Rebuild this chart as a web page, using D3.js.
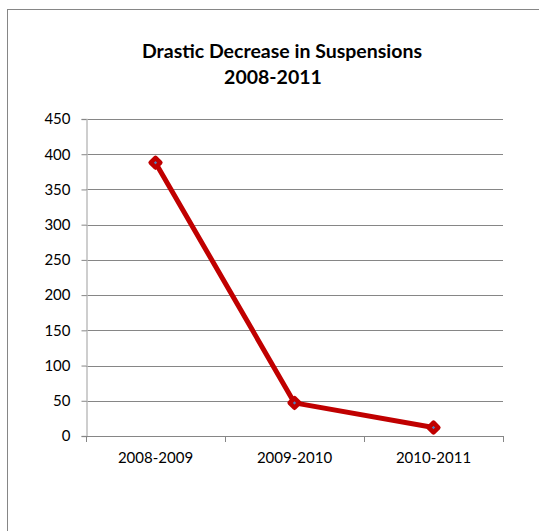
<!DOCTYPE html>
<html>
<head>
<meta charset="utf-8">
<script src="https://cdn.jsdelivr.net/npm/d3@7"></script>
<style>
  html, body { margin: 0; padding: 0; background: #fff; }
  svg { display: block; }
  text { font-family: Lato, "Open Sans", sans-serif; fill: #000; }
</style>
</head>
<body>
<svg id="chart" width="539" height="531"></svg>
<script>
const categories = ["2008-2009", "2009-2010", "2010-2011"];
const suspensions = [388, 47, 12];
const yTicks = [0, 50, 100, 150, 200, 250, 300, 350, 400, 450];
const titleLines = ["Drastic Decrease in Suspensions", "2008-2011"];

const svg = d3.select("#chart");

// chart frame (runs past the right and bottom edges)
svg.append("rect")
  .attr("x", 7.5).attr("y", 9.5)
  .attr("width", 600).attr("height", 600)
  .attr("fill", "#fff").attr("stroke", "#868686").attr("stroke-width", 1);

const plot = { left: 86, right: 503, top: 119, bottom: 436 };

const x = d3.scaleBand().domain(categories).range([plot.left, plot.right]);
const y = d3.scaleLinear().domain([0, 450]).range([plot.bottom, plot.top]);

// horizontal gridlines
svg.append("g")
  .selectAll("line")
  .data(yTicks.filter(d => d > 0))
  .join("line")
  .attr("x1", plot.left).attr("x2", plot.right)
  .attr("y1", d => Math.round(y(d)) + 0.5).attr("y2", d => Math.round(y(d)) + 0.5)
  .attr("stroke", "#868686").attr("stroke-width", 1);

// y axis
const yAxis = svg.append("g")
  .attr("transform", `translate(${plot.left + 0.5},0)`)
  .call(d3.axisLeft(y).tickValues(yTicks).tickSize(5).tickPadding(11));
yAxis.select(".domain").attr("stroke", "#BFBFBF").attr("stroke-width", 1.5);
yAxis.selectAll(".tick line").attr("stroke", "#868686");
yAxis.selectAll(".tick text")
  .attr("font-size", 15).attr("font-family", "Lato, sans-serif").attr("fill", "#000");

// x axis
const xAxis = svg.append("g")
  .attr("transform", `translate(0,${Math.round(y(0)) + 0.5})`)
  .call(d3.axisBottom(x).tickSize(0).tickPadding(16));
xAxis.select(".domain").attr("stroke", "#868686").attr("d", `M${plot.left},0H${plot.right}`);
xAxis.selectAll(".tick text")
  .attr("font-size", 15).attr("font-family", "Lato, sans-serif").attr("fill", "#000");

// category boundary ticks
const bounds = [plot.left, ...categories.map(c => x(c) + x.bandwidth())];
svg.append("g")
  .selectAll("line")
  .data(bounds)
  .join("line")
  .attr("x1", d => Math.round(d) + 0.5).attr("x2", d => Math.round(d) + 0.5)
  .attr("y1", Math.round(y(0))).attr("y2", Math.round(y(0)) + 6)
  .attr("stroke", "#868686");

// series line
const pts = categories.map((c, i) => [x(c) + x.bandwidth() / 2, y(suspensions[i])]);
svg.append("path")
  .attr("d", d3.line()(pts))
  .attr("fill", "none").attr("stroke", "#C00000")
  .attr("stroke-width", 5).attr("stroke-linejoin", "round");

// diamond markers
svg.append("g")
  .selectAll("path")
  .data(pts)
  .join("path")
  .attr("transform", d => `translate(${d[0]},${d[1]})`)
  .attr("d", d3.symbol(d3.symbolDiamond2, 60)())
  .attr("fill", "#4F81BD").attr("stroke", "#C00000")
  .attr("stroke-width", 4.5).attr("stroke-linejoin", "round");

// title
svg.append("text")
  .attr("x", 282).attr("y", 58)
  .attr("text-anchor", "middle")
  .attr("font-size", 19.5).attr("font-weight", "bold")
  .text(titleLines[0]);
svg.append("text")
  .attr("x", 273).attr("y", 84)
  .attr("text-anchor", "middle")
  .attr("font-size", 19.5).attr("font-weight", "bold")
  .text(titleLines[1]);
</script>
</body>
</html>
